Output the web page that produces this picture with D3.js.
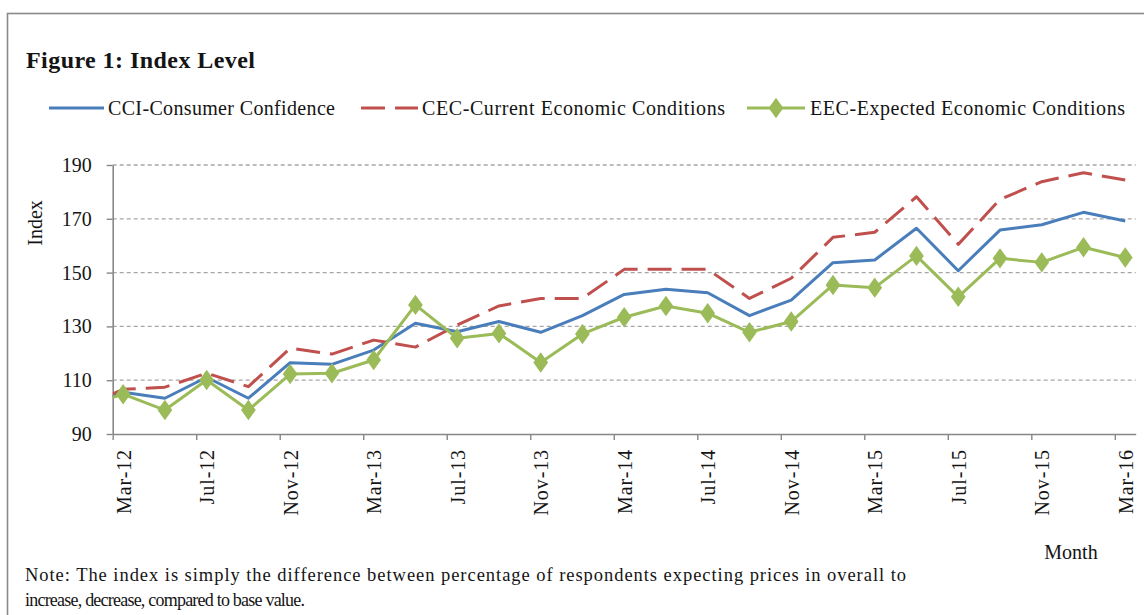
<!DOCTYPE html>
<html><head><meta charset="utf-8">
<script src="https://cdn.jsdelivr.net/npm/d3@7"></script>
<style>
body{margin:0;background:#fff}
svg{display:block}
text{font-family:"Liberation Serif","Times New Roman",serif;fill:#141414}
</style>
</head><body>
<svg id="chart" width="1144" height="615"></svg>
<script>
// ---- data ----
// Jan-12 is the base period (100); it lies left of the axis and is clipped, as in the original.
const months = ["Jan-12","Mar-12","May-12","Jul-12","Sep-12","Nov-12","Jan-13","Mar-13","May-13","Jul-13","Sep-13","Nov-13","Jan-14","Mar-14","May-14","Jul-14","Sep-14","Nov-14","Jan-15","Mar-15","May-15","Jul-15","Sep-15","Nov-15","Jan-16","Mar-16"];
const cci = [100,105.5,103.3,111.1,103.3,116.5,115.9,121.2,131.2,128.0,131.8,127.8,134.0,141.9,143.8,142.5,134.0,139.8,153.7,154.7,166.5,150.7,165.8,167.8,172.4,169.2];
const cec = [100,106.6,107.4,112.6,107.6,121.9,119.7,124.9,122.3,130.5,137.6,140.4,140.4,151.2,151.2,151.2,140.4,147.9,163.1,165.0,178.2,160.5,177.2,183.8,187.1,184.4];
const eec = [100,104.8,98.9,110.1,98.9,112.3,112.6,117.5,138.0,125.6,127.4,116.6,127.2,133.4,137.6,134.9,127.8,131.8,145.4,144.4,156.2,141.0,155.3,153.8,159.4,155.6];
const seriesNames = ["CCI-Consumer Confidence","CEC-Current Economic Conditions","EEC-Expected Economic Conditions"];
const xTickLabels = ["Mar-12","Jul-12","Nov-12","Mar-13","Jul-13","Nov-13","Mar-14","Jul-14","Nov-14","Mar-15","Jul-15","Nov-15","Mar-16"];
const yTicks = [90,110,130,150,170,190];
const titleText = "Figure 1: Index Level";
const yTitle = "Index";
const xTitle = "Month";
const noteLines = ["Note: The index is simply the difference between percentage of respondents expecting prices in overall to",
                   "increase, decrease,  compared  to base value."];

(function(){
const svg = d3.select("#chart");
svg.append("rect").attr("width",1144).attr("height",615).attr("fill","#fff");
// outer frame (continues beyond the right and bottom edges)
svg.append("rect").attr("x",7.5).attr("y",13.5).attr("width",1300).attr("height",700)
   .attr("fill","none").attr("stroke","#8a8a8a").attr("stroke-width",1.6);

const parse = d3.timeParse("%b-%y");
const mIdx = s => { const t = parse(s); return (t.getFullYear()-2012)*12 + t.getMonth() - 2; };

const pLeft = 112.7, pRight = 1135.7, pTop = 165, pBottom = 434;
const x = d3.scaleLinear().domain([0, 49]).range([pLeft, pRight]);
const y = d3.scaleLinear().domain([90, 190]).range([pBottom, pTop]);
const half = (x(1) - x(0)) / 2;

// gridlines
svg.append("g").selectAll("line").data(yTicks.filter(v => v > 90)).join("line")
  .attr("x1", pLeft).attr("x2", pRight).attr("y1", d => y(d)).attr("y2", d => y(d))
  .attr("stroke","#a6a6a6").attr("stroke-width",1.3).attr("stroke-dasharray","4,3");

// axes
const axisColor = "#878787";
const gx = svg.append("g").attr("transform",`translate(0,${pBottom})`)
  .call(d3.axisBottom(x).tickValues(xTickLabels.map(mIdx)).tickSize(6).tickSizeOuter(0)
        .tickFormat((d,i) => xTickLabels[i]));
gx.selectAll("text")
  .attr("transform",`translate(${half},15) rotate(-90)`)
  .attr("x",0).attr("y",0).attr("dy","0.35em")
  .attr("text-anchor","end")
  .style("font-size","20px").style("letter-spacing","0.9px");

const gy = svg.append("g").attr("transform",`translate(${pLeft},0)`)
  .call(d3.axisLeft(y).tickValues(yTicks).tickSize(6).tickSizeOuter(0).tickPadding(15));
gy.selectAll("text").style("font-size","20px");

[gx, gy].forEach(g => {
  g.select(".domain").attr("stroke",axisColor).attr("stroke-width",1.6);
  g.selectAll(".tick line").attr("stroke",axisColor).attr("stroke-width",1.4);
  g.selectAll("text").attr("fill","#141414").attr("font-family",null);
  g.attr("font-family",null).attr("font-size",null);
});

// clip for lines
svg.append("clipPath").attr("id","plotclip").append("rect")
  .attr("x", pLeft).attr("y", 0).attr("width", pRight - pLeft).attr("height", 615);

const colors = ["#4a7ebb","#c0504d","#9bbb59"];
const dashes = [null, "24,10", null];
const seriesVals = [cci, cec, eec];
const line = d3.line().x(d => x(d.m + 0.5)).y(d => y(d.v));

const plot = svg.append("g");
seriesVals.forEach((vals, k) => {
  const pts = months.map((m, i) => ({m: mIdx(m), v: vals[i]}));
  plot.append("path").datum(pts)
    .attr("clip-path","url(#plotclip)")
    .attr("d", line).attr("fill","none")
    .attr("stroke", colors[k]).attr("stroke-width", 3)
    .attr("stroke-linejoin","round")
    .attr("stroke-dasharray", dashes[k]);
  if (k === 2) {
    plot.append("g").selectAll("path").data(pts.filter(p => p.m >= 0)).join("path")
      .attr("d", d3.symbol(d3.symbolDiamond, 120)())
      .attr("transform", d => `translate(${x(d.m + 0.5)},${y(d.v)}) scale(1.25,1)`)
      .attr("fill", colors[2]);
  }
});

// title
svg.append("text").attr("x",26).attr("y",68).text(titleText)
  .style("font-size","24px").style("font-weight","bold").attr("fill","#000")
  .attr("textLength",229).attr("lengthAdjust","spacing");

// legend
const legY = 108;
const legItems = [
  {x1:49, x2:104, tx:108, w:227},
  {x1:361, x2:418, tx:422, w:303},
  {x1:747, x2:805, tx:810, w:315}
];
legItems.forEach((it, k) => {
  svg.append("line").attr("x1",it.x1).attr("x2",it.x2).attr("y1",legY).attr("y2",legY)
    .attr("stroke",colors[k]).attr("stroke-width",3).attr("stroke-dasharray",dashes[k]);
  if (k === 2) {
    svg.append("path").attr("d", d3.symbol(d3.symbolDiamond, 120)())
      .attr("transform",`translate(${(it.x1+it.x2)/2},${legY}) scale(1.25,1)`).attr("fill",colors[2]);
  }
  svg.append("text").attr("x",it.tx).attr("y",legY).attr("dy","0.35em")
    .text(seriesNames[k]).style("font-size","20px")
    .attr("textLength",it.w).attr("lengthAdjust","spacing");
});

// axis titles
svg.append("text").attr("transform","translate(35,223) rotate(-90)")
  .attr("text-anchor","middle").attr("dy","0.35em").text(yTitle).style("font-size","20px");
svg.append("text").attr("x",1071).attr("y",559).attr("text-anchor","middle")
  .text(xTitle).style("font-size","20px");

// note
svg.append("text").attr("x",25).attr("y",581).text(noteLines[0])
  .style("font-size","18.5px").attr("textLength",881).attr("lengthAdjust","spacing");
svg.append("text").attr("x",25).attr("y",606).text(noteLines[1])
  .style("font-size","18px").attr("textLength",280).attr("lengthAdjust","spacing");
})();
</script>
</body></html>
